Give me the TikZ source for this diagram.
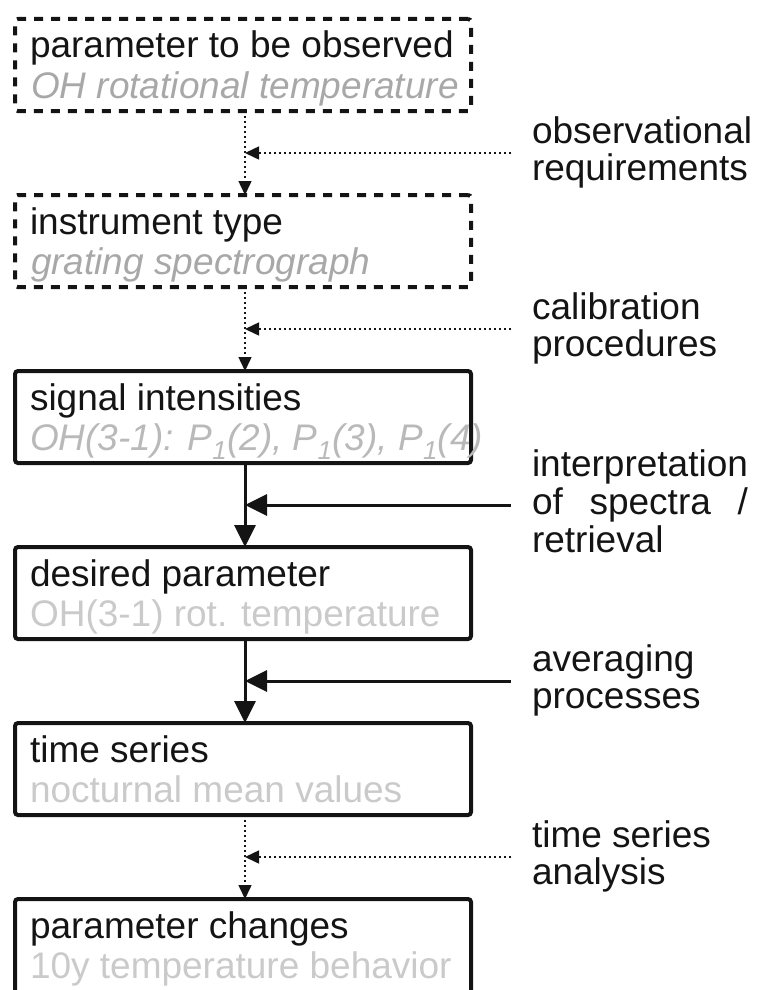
\documentclass[tikz,border=0pt]{standalone}
\usepackage{fontspec}
\setmainfont{Liberation Sans}
\usepackage{calc}
\usetikzlibrary{arrows.meta}
\definecolor{ink}{RGB}{20,20,20}
\definecolor{lgA}{RGB}{168,168,168}
\definecolor{lgB}{RGB}{185,185,185}
\definecolor{lgC}{RGB}{202,202,202}
\begin{document}
\begin{tikzpicture}[x=1pt,y=-1pt,
  every node/.style={font=\fontsize{37}{37}\selectfont, inner sep=0pt, outer sep=0pt},
  boxbase/.style={draw=ink, line width=4pt, rounded corners=3pt, minimum width=456pt, minimum height=92pt, anchor=north west},
  dbox/.style={boxbase, dash pattern=on 9pt off 8pt},
  sbox/.style={boxbase},
  tmain/.style={anchor=base west, text=ink},
  tsubA/.style={anchor=base west, text=lgA, font=\fontsize{37}{37}\selectfont\itshape},
  tsubB/.style={anchor=base west, text=lgB, font=\fontsize{37}{37}\selectfont\itshape},
  tsubC/.style={anchor=base west, text=lgC},
  lbl/.style={anchor=base west, text=ink},
  dotline/.style={draw=ink, line width=1.5pt, dash pattern=on 1.8pt off 3.2pt, -{Triangle[length=14pt,width=13pt]}},
  solline/.style={draw=ink, line width=3pt, -{Triangle[length=22pt,width=21pt]}}
]
\useasboundingbox (0,0) rectangle (763,990);

% boxes
\node[dbox] (b1) at (15,19) {};
\node[dbox] (b2) at (15,195) {};
\node[sbox] (b3) at (15,371) {};
\node[sbox] (b4) at (15,547) {};
\node[sbox] (b5) at (15,723) {};
\node[sbox, minimum height=104pt] (b6) at (15,899) {};

% box texts
\node[tmain] (t1a) at (30,58) {parameter to be observed};
\node[tsubA] (t1b) at (31,98) {OH rotational temperature};
\node[tmain] (t2a) at (30,234) {instrument type};
\node[tsubA] (t2b) at (31,274) {grating spectrograph};
\node[tmain] (t3a) at (30,410) {signal intensities};
\node[tsubB] (t3b) at (30,450) {OH(3-1): P\textsubscript{1}(2), P\textsubscript{1}(3), P\textsubscript{1}(4)};
\node[tmain] (t4a) at (30,586) {desired parameter};
\node[tsubC] (t4b) at (30,626) {OH(3-1) rot. temperature};
\node[tmain] (t5a) at (30,762) {time series};
\node[tsubC] (t5b) at (30,802) {nocturnal mean values};
\node[tmain] (t6a) at (30,938) {parameter changes};
\node[tsubC] (t6b) at (30,978) {10y temperature behavior};

% junction points and side-arrow origins
\coordinate (j1) at (245,153);
\coordinate (j2) at (245,329);
\coordinate (j3) at (245,505);
\coordinate (j4) at (245,681);
\coordinate (j5) at (245,857);
\coordinate (o1) at (511,153);
\coordinate (o2) at (511,329);
\coordinate (o3) at (511,505);
\coordinate (o4) at (511,681);
\coordinate (o5) at (511,857);

% vertical connectors
\draw[dotline] (b1.south -| j1) -- (b2.north -| j1);
\draw[dotline] (b2.south -| j2) -- (b3.north -| j2);
\draw[solline] (b3.south -| j3) -- (b4.north -| j3);
\draw[solline] (b4.south -| j4) -- (b5.north -| j4);
\draw[dotline] (b5.south -| j5) -- (b6.north -| j5);

% side connectors
\draw[dotline] (o1) -- (j1);
\draw[dotline] (o2) -- (j2);
\draw[solline] (o3) -- (j3);
\draw[solline] (o4) -- (j4);
\draw[dotline] (o5) -- (j5);

% labels
\node[lbl] (l1a) at (532,143) {observational};
\node[lbl] (l1b) at (532,180) {requirements};
\node[lbl] (l2a) at (532,319) {calibration};
\node[lbl] (l2b) at (532,356) {procedures};
\node[lbl] (l3a) at (532,476) {interpretation};
\node[lbl] (l3b) at (532,514) {\makebox[\widthof{interpretation}][s]{of spectra /}};
\node[lbl] (l3c) at (532,552) {retrieval};
\node[lbl] (l4a) at (532,671) {averaging};
\node[lbl] (l4b) at (532,708) {processes};
\node[lbl] (l5a) at (532,847) {time series};
\node[lbl] (l5b) at (532,884) {analysis};
\end{tikzpicture}
\end{document}
